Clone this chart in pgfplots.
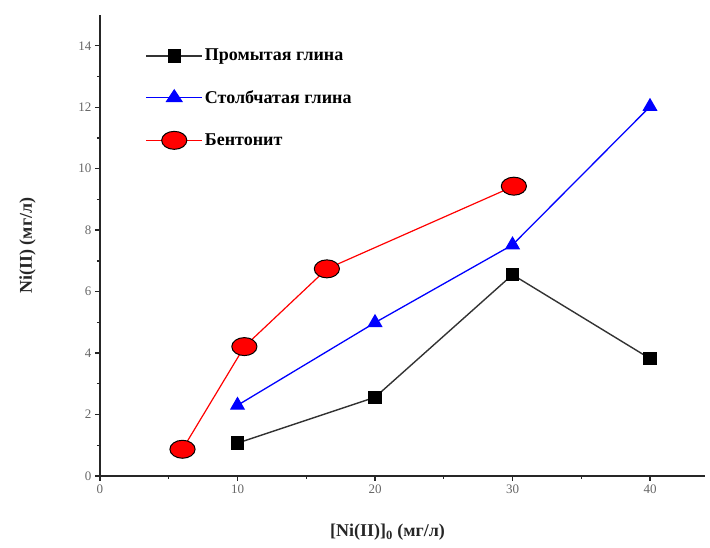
\documentclass[border=0pt]{standalone}
\usepackage{pgfplots}
\pgfplotsset{compat=1.18}
\usepackage{fontspec}
\setmainfont{Liberation Serif}
\begin{document}
\begin{tikzpicture}
\begin{axis}[
  name=ax,
  scale only axis,
  width=605pt, height=461pt,
  xmin=0, xmax=44, ymin=0, ymax=15,
  axis x line=bottom, axis y line=left,
  axis line style={-, line width=1.3pt, black!85},
  xtick={0,10,20,30,40}, minor xtick={5,15,25,35},
  ytick={0,2,...,14}, minor ytick={1,3,...,13},
  tick align=outside,
  major tick length=5pt, minor tick length=3pt,
  tick style={line width=1.3pt, black!85},
  ticklabel style={font=\fontsize{13}{15}\selectfont, text=black!60},
  /pgf/number format/assume math mode=true,
  xlabel={\textbf{[Ni(II)]\textsubscript{0} (мг/л)}},
  ylabel={\textbf{Ni(II) (мг/л)}},
  label style={font=\fontsize{18}{21}\selectfont, text=black!85},
  xlabel style={yshift=-24pt, xshift=-15pt},
  ylabel style={yshift=36pt},
  legend style={draw=none, fill=none, at={(0.07,0.935)}, anchor=north west,
    font=\fontsize{18}{21}\selectfont\bfseries, row sep=24pt},
  legend cell align=left,
  clip=false,
]
\addplot[color=black!80, line width=1.4pt, mark=square*, mark size=6pt, mark options={fill=black, draw=black},
  legend image code/.code={\draw[black!80, line width=1.4pt] (0pt,0pt) -- (56pt,0pt); \fill[black] (22pt,-6pt) rectangle (34pt,6pt);}]
  coordinates {(10,1.07) (20,2.56) (30,6.55) (40,3.82)};
\addlegendentry{Промытая глина}
\addplot[color=blue, line width=1.3pt, mark=triangle*, mark size=7.5pt, mark options={fill=blue, draw=blue},
  legend image code/.code={\draw[blue, line width=1.3pt] (0pt,0pt) -- (56pt,0pt); \fill[blue] (20.5pt,-3.75pt) -- (35.5pt,-3.75pt) -- (28pt,7.5pt) -- cycle;}]
  coordinates {(10,2.3) (20,4.99) (30,7.52) (40,12.02)};
\addlegendentry{Столбчатая глина}
\addplot[color=red, line width=1.2pt, mark=*, mark size=9pt, mark options={fill=red, draw=black, line width=1pt, xscale=1.4},
  legend image code/.code={\draw[red, line width=1.2pt] (0pt,0pt) -- (56pt,0pt); \filldraw[fill=red, draw=black, line width=1pt] (28pt,0pt) ellipse [x radius=12.6pt, y radius=9pt];}]
  coordinates {(6,0.87) (10.5,4.21) (16.5,6.74) (30.1,9.43)};
\addlegendentry{Бентонит}
\end{axis}
\path[use as bounding box] ([xshift=-100pt,yshift=-72pt]ax.south west) rectangle ([xshift=5pt,yshift=15pt]ax.north east);
\end{tikzpicture}
\end{document}
